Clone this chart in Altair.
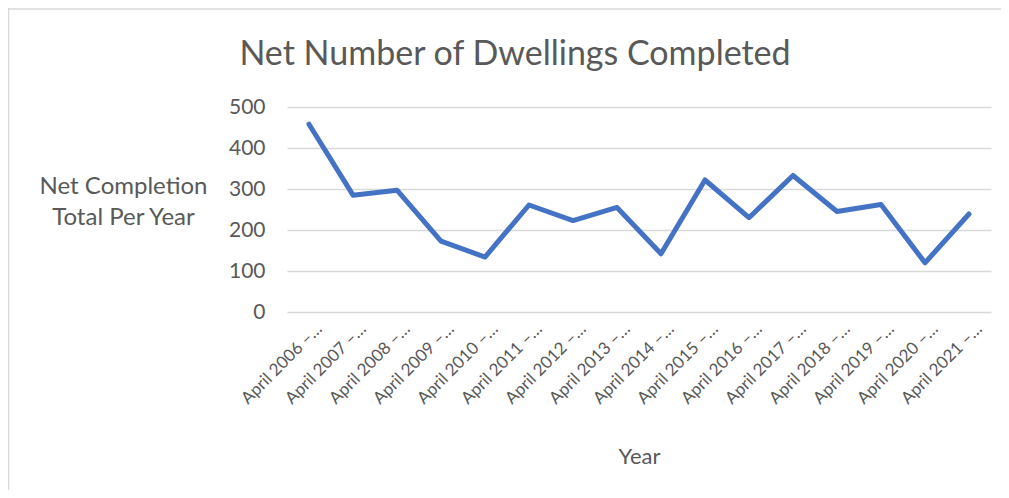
import altair as alt
import pandas as pd

periods = [f"April {y} – March {y+1}" for y in range(2006, 2022)]
completions = [458, 285, 297, 173, 134, 261, 223, 255, 142, 322, 230, 333, 245, 262, 120, 239]
y_ticks = [0, 100, 200, 300, 400, 500]

df = pd.DataFrame({"period": periods, "completions": completions})

FONT = "Lato"
GREY = "#595959"
GRID = "#d9d9d9"

W, H = 704, 205
PAD = {"left": 279, "top": 99, "right": 10, "bottom": 178}

line = alt.Chart(df).mark_line(color="#4472C4", strokeWidth=5, strokeCap="round", strokeJoin="round").encode(
    x=alt.X(
        "period:N",
        sort=periods,
        scale=alt.Scale(padding=0.5),
        axis=alt.Axis(
            title="Year",
            titleFont=FONT,
            titleFontSize=22,
            titleFontWeight="normal",
            titleColor=GREY,
            titleX=352,
            titleY=144,
            titleBaseline="middle",
            labelExpr="substring(datum.label, 0, 12) + '…'",
            labelAngle=-45,
            labelAlign="right",
            labelBaseline="middle",
            labelFont=FONT,
            labelFontSize=17,
            labelColor=GREY,
            labelPadding=14,
            labelOffset=10,
            labelLimit=300,
            domain=False,
            ticks=False,
            grid=False,
        ),
    ),
    y=alt.Y(
        "completions:Q",
        scale=alt.Scale(domain=[0, 500], nice=False),
        axis=alt.Axis(
            values=y_ticks,
            title=["Net Completion", "Total Per Year"],
            titleAngle=0,
            titleAlign="center",
            titleBaseline="middle",
            titleX=-164,
            titleY=79,
            titleLineHeight=31,
            titleFont=FONT,
            titleFontSize=24,
            titleFontWeight="normal",
            titleColor=GREY,
            labelFont=FONT,
            labelFontSize=21,
            labelColor=GREY,
            labelPadding=22,
            domain=False,
            ticks=False,
            grid=True,
            gridColor=GRID,
            gridWidth=1.5,
        ),
    ),
)

frame_data = alt.Data(values=[{"a": 1}])
top_rule = alt.Chart(frame_data).mark_rule(color=GRID, strokeWidth=1.5).encode(
    x=alt.value(-PAD["left"]), x2=alt.value(W + PAD["right"] + 20), y=alt.value(-PAD["top"] + 1)
)
left_rule = alt.Chart(frame_data).mark_rule(color=GRID, strokeWidth=1.5).encode(
    x=alt.value(-PAD["left"] + 0.5), y=alt.value(-PAD["top"]), y2=alt.value(H + PAD["bottom"] + 10)
)

chart = alt.layer(top_rule, left_rule, line).properties(
    width=W,
    height=H,
    padding=PAD,
    background="white",
    autosize=alt.AutoSizeParams(type="none"),
    title=alt.TitleParams(
        "Net Number of Dwellings Completed",
        font=FONT,
        fontSize=34,
        fontWeight="normal",
        color=GREY,
        anchor="middle",
        dx=-124,
        baseline="alphabetic",
        offset=0,
        dy=92,
    ),
).configure_view(stroke=None)

chart.save("out.html", embed_options={"renderer": "svg", "actions": False})
